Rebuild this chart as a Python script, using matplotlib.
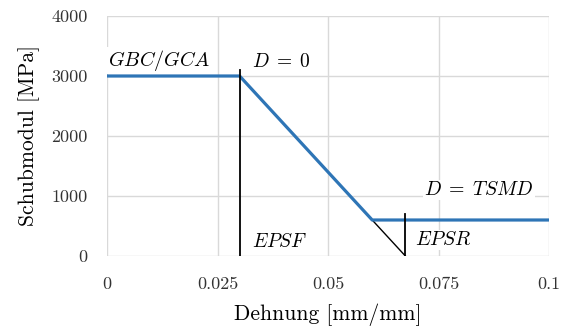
import matplotlib
matplotlib.use("Agg")
import matplotlib.pyplot as plt

# shear modulus degradation curve
strain = [0.0, 0.03, 0.06, 0.1]
shear_modulus = [3000, 3000, 600, 600]

# helper lines: failure strain marker and extrapolated residual strain
epsf_x = [0.03, 0.03]
epsf_y = [0, 3100]
epsr_diag_x = [0.06, 0.0675]
epsr_diag_y = [600, 0]
epsr_x = [0.0675, 0.0675]
epsr_y = [0, 700]

x_ticks = [0, 0.025, 0.05, 0.075, 0.1]
x_tick_labels = ["0", "0.025", "0.05", "0.075", "0.1"]
y_ticks = [0, 1000, 2000, 3000, 4000]
y_tick_labels = ["0", "1000", "2000", "3000", "4000"]

plt.rcParams["font.family"] = "serif"
plt.rcParams["font.serif"] = ["cmr10"]
plt.rcParams["mathtext.fontset"] = "cm"
plt.rcParams["axes.formatter.use_mathtext"] = True

fig = plt.figure(figsize=(5.65, 3.36), dpi=100)
fig.patch.set_facecolor("white")
ax = fig.add_axes([0.1894, 0.2381, 0.9717 - 0.1894, 0.9524 - 0.2381])

ax.plot(strain, shear_modulus, color="#2e75b6", linewidth=2.3, zorder=3)
ax.plot(epsf_x, epsf_y, color="black", linewidth=1.3, zorder=4)
ax.plot(epsr_diag_x, epsr_diag_y, color="black", linewidth=1.0, zorder=2)
ax.plot(epsr_x, epsr_y, color="black", linewidth=1.3, zorder=4)

ax.set_xlim(0, 0.1)
ax.set_ylim(0, 4000)
ax.set_xticks(x_ticks)
ax.set_xticklabels(x_tick_labels)
ax.set_yticks(y_ticks)
ax.set_yticklabels(y_tick_labels)
ax.tick_params(axis="both", length=0, labelsize=13, colors="#333333")
ax.tick_params(axis="x", pad=15)
ax.tick_params(axis="y", pad=14)

for side in ["top", "right", "bottom", "left"]:
    ax.spines[side].set_visible(False)
ax.grid(True, color="#d9d9d9", linewidth=1.0, zorder=0)
ax.set_axisbelow(True)

ax.set_xlabel("Dehnung [mm/mm]", fontsize=15.5, labelpad=8)
ax.set_ylabel("Schubmodul [MPa]", fontsize=15.5, labelpad=8)

box = dict(facecolor="white", edgecolor="none", pad=1.0)
ax.text(0.0002, 3167, r"$GBC/GCA$", fontsize=14.5, va="baseline", bbox=box, zorder=5)
ax.text(0.0328, 3150, r"$D\;=\;\mathit{0}$", fontsize=14, va="baseline", bbox=box, zorder=5)
ax.text(0.0717, 1017, r"$D\;=\;\mathit{TSMD}$", fontsize=14.3, va="baseline", bbox=box, zorder=5)
ax.text(0.0328, 150, r"$EPSF$", fontsize=14, va="baseline", bbox=box, zorder=5)
ax.text(0.0697, 183, r"$EPSR$", fontsize=14.3, va="baseline", bbox=box, zorder=5)

fig.savefig("out.png", dpi=100)
